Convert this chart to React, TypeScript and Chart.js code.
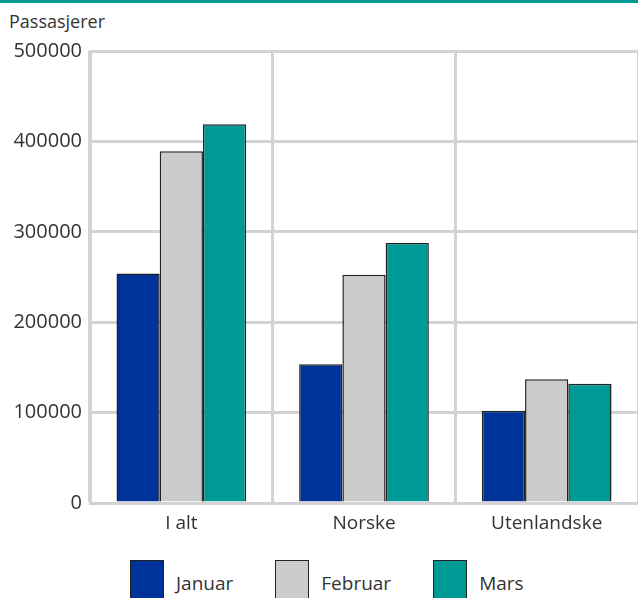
import React, { useEffect, useRef } from "react";
import { Chart, registerables } from "chart.js";

Chart.register(...registerables);

const categories = ["I alt", "Norske", "Utenlandske"];
const seriesNames = ["Januar", "Februar", "Mars"];
const januar = [254000, 153500, 102000];
const februar = [389000, 252500, 137000];
const mars = [419000, 287500, 132000];
const seriesColors = ["#003399", "#cccccc", "#009a96"];
const yMin = 0;
const yMax = 500000;
const yStep = 100000;
const yTitle = "Passasjerer";

const FONT = "'Open Sans', 'Noto Sans', sans-serif";
const TEXT = "#333333";
const GRID = "#d3d3d3";

export default function App() {
  const canvasRef = useRef<HTMLCanvasElement | null>(null);

  useEffect(() => {
    if (!canvasRef.current) return;
    const values = [januar, februar, mars];
    const chart = new Chart(canvasRef.current, {
      type: "bar",
      data: {
        labels: categories,
        datasets: seriesNames.map((name, i) => ({
          label: name,
          data: values[i],
          backgroundColor: seriesColors[i],
          borderColor: "#222222",
          borderWidth: 1.5,
          barPercentage: 1,
          categoryPercentage: 0.71,
        })),
      },
      options: {
        animation: false,
        responsive: false,
        maintainAspectRatio: false,
        layout: { padding: { top: 51, left: 0, right: 0, bottom: 0 } },
        plugins: {
          legend: { display: false },
          tooltip: { enabled: false },
          title: { display: false },
        },
        scales: {
          x: {
            offset: true,
            grid: { display: true, offset: true, color: GRID, lineWidth: 3, drawTicks: false },
            border: { display: true, color: GRID, width: 3 },
            ticks: { color: TEXT, font: { family: FONT, size: 19 }, padding: 9 },
            afterFit: (scale: any) => {
              scale.height = 37;
            },
          },
          y: {
            min: yMin,
            max: yMax,
            grid: { color: GRID, lineWidth: 3, drawTicks: false },
            border: { display: true, color: GRID, width: 3 },
            ticks: {
              stepSize: yStep,
              color: TEXT,
              font: { family: FONT, size: 20 },
              padding: 8,
              callback: (v: any) => String(v),
            },
            afterFit: (scale: any) => {
              scale.width = 90;
            },
          },
        },
      },
    });
    return () => chart.destroy();
  }, []);

  return (
    <div
      style={{
        position: "absolute",
        left: 0,
        top: 0,
        width: 638,
        height: 598,
        overflow: "hidden",
        background: "#ffffff",
        fontFamily: FONT,
        color: TEXT,
      }}
    >
      <div style={{ position: "absolute", left: 0, top: 0, width: 638, height: 3, background: "#009a96" }} />
      <div style={{ position: "absolute", left: 9, top: 8, fontSize: 18, lineHeight: "26px", whiteSpace: "nowrap" }}>
        {yTitle}
      </div>
      <canvas ref={canvasRef} width={638} height={540} style={{ position: "absolute", left: 0, top: 0, width: 638, height: 540 }} />
      <div style={{ position: "absolute", left: 130, top: 560, display: "flex", alignItems: "flex-start", height: 44 }}>
        {seriesNames.map((name, i) => (
          <div key={name} style={{ display: "flex", alignItems: "flex-start", marginRight: 42 }}>
            <div
              style={{
                width: 34,
                height: 46,
                boxSizing: "border-box",
                border: "1.5px solid #222222",
                background: seriesColors[i],
              }}
            />
            <span style={{ marginLeft: 12, fontSize: 19, lineHeight: "26px", marginTop: 10, whiteSpace: "nowrap" }}>{name}</span>
          </div>
        ))}
      </div>
    </div>
  );
}
